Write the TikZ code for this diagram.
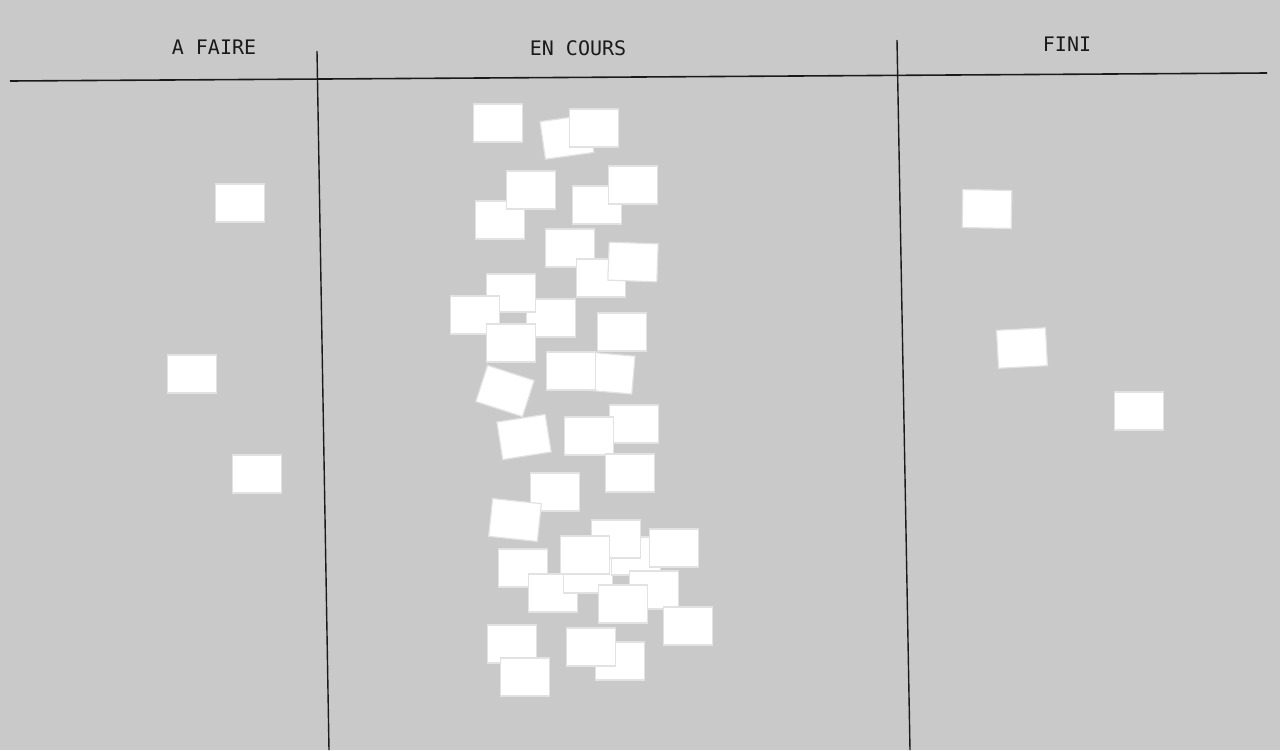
\documentclass[tikz,border=0pt]{standalone}
\usepackage{fontspec}
\setmonofont{DejaVu Sans Mono}
\definecolor{board}{HTML}{C9C9C9}
\definecolor{edge}{HTML}{E2E2E2}
\definecolor{ink}{HTML}{1A1A1A}
\begin{document}
\begin{tikzpicture}[x=1pt, y=-1pt,
	note/.style={draw=edge, line width=1.2pt, fill=white, minimum width=49pt, minimum height=38pt, inner sep=0pt},
	title/.style={font=\ttfamily\fontsize{20}{20}\selectfont, text=ink}]
	\fill[board] (0,0) rectangle (1280,750);
	\useasboundingbox (0,0) rectangle (1280,750);

	% columns
	\draw[ink, line width=1.6pt] (10,81) -- (1267,73);
	\draw[ink, line width=1.4pt] (317,51) -- (329,750);
	\draw[ink, line width=1.4pt] (897,40) -- (910,750);

	\node[title] (todo) at (214,47) {A FAIRE};
	\node[title] (doing) at (578,48) {EN COURS};
	\node[title] (done) at (1067,44) {FINI};

	% a faire
	\node[note] (t1) at (240,203) {};
	\node[note] (t2) at (192,374) {};
	\node[note] (t3) at (257,474) {};

	% en cours
	\node[note] (c1) at (498,123) {};
	\node[note, rotate=8] (c2) at (567,137) {};
	\node[note] (c3) at (594,128) {};
	\node[note] (c4) at (500,220) {};
	\node[note] (c5) at (531,190) {};
	\node[note] (c6) at (597,205) {};
	\node[note] (c7) at (633,185) {};
	\node[note] (c8) at (570,248) {};
	\node[note] (c9) at (601,278) {};
	\node[note, rotate=-2] (c10) at (633,262) {};
	\node[note] (c12) at (551,318) {};
	\node[note] (c11) at (511,293) {};
	\node[note] (c13) at (475,315) {};
	\node[note] (c14) at (511,343) {};
	\node[note] (c15) at (622,332) {};
	\node[note, rotate=-5] (c16) at (609,373) {};
	\node[note] (c17) at (571,371) {};
	\node[note, rotate=-18] (c18) at (505,391) {};
	\node[note, rotate=9] (c19) at (524,437) {};
	\node[note] (c20) at (634,424) {};
	\node[note] (c21) at (589,436) {};
	\node[note] (c22) at (555,492) {};
	\node[note] (c23) at (630,473) {};
	\node[note, rotate=-6] (c24) at (515,520) {};
	\node[note] (c25) at (523,568) {};
	\node[note] (c26) at (553,593) {};
	\node[note] (c27) at (588,574) {};
	\node[note] (c28) at (636,556) {};
	\node[note] (c29) at (616,539) {};
	\node[note] (c30) at (585,555) {};
	\node[note] (c31) at (674,548) {};
	\node[note] (c32) at (654,590) {};
	\node[note] (c33) at (623,604) {};
	\node[note] (c34) at (688,626) {};
	\node[note] (c35) at (512,644) {};
	\node[note] (c36) at (525,677) {};
	\node[note] (c37) at (620,661) {};
	\node[note] (c38) at (591,647) {};

	% fini
	\node[note, rotate=-1] (f1) at (987,209) {};
	\node[note, rotate=3] (f2) at (1022,348) {};
	\node[note] (f3) at (1139,411) {};
\end{tikzpicture}
\end{document}
